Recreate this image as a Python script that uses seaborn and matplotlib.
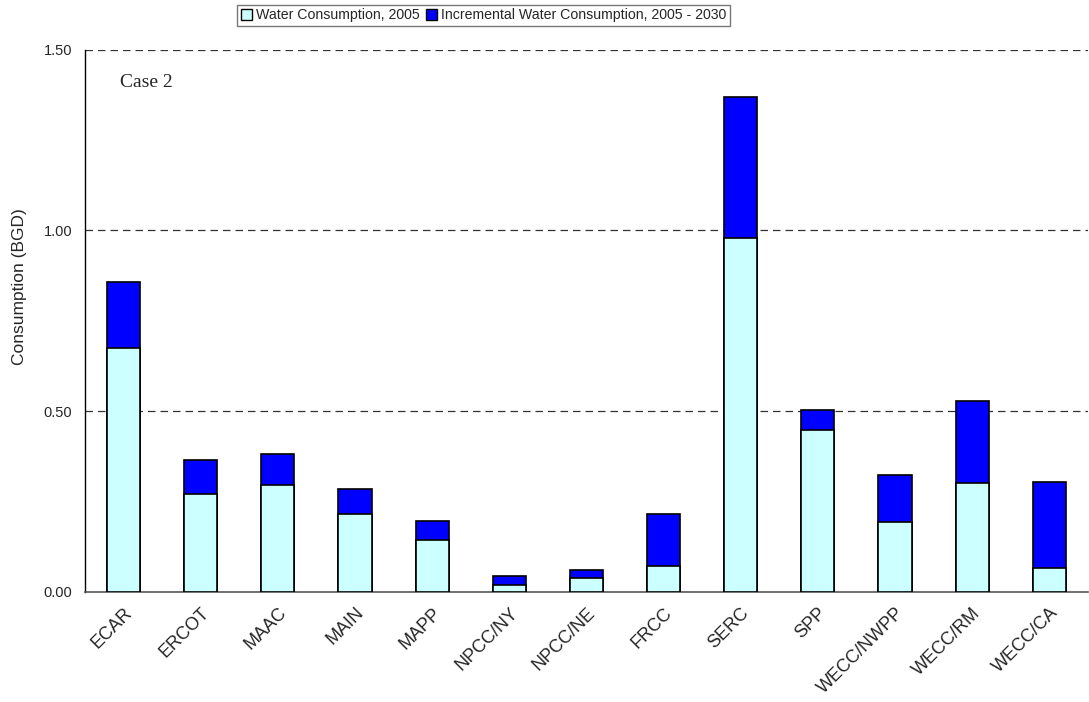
import numpy as np
import pandas as pd
import matplotlib
matplotlib.use("Agg")
import matplotlib.pyplot as plt
import matplotlib.patches as mpatches
from matplotlib.ticker import FixedLocator, FormatStrFormatter
import seaborn as sns

# -----------------------------
# Data (BGD)
# -----------------------------
regions = ["ECAR", "ERCOT", "MAAC", "MAIN", "MAPP", "NPCC/NY", "NPCC/NE",
           "FRCC", "SERC", "SPP", "WECC/NWPP", "WECC/RM", "WECC/CA"]
consumption_2005 = [0.674, 0.270, 0.295, 0.214, 0.144, 0.020, 0.039,
                    0.070, 0.980, 0.447, 0.193, 0.301, 0.067]
incremental_2005_2030 = [0.183, 0.095, 0.085, 0.071, 0.051, 0.025, 0.021,
                         0.146, 0.390, 0.055, 0.129, 0.227, 0.236]

df = pd.DataFrame({
    "region": regions,
    "base": consumption_2005,
    "incr": incremental_2005_2030,
})
df["total"] = df["base"] + df["incr"]

base_color = "#ccffff"
incr_color = "#0000ff"

sns.set_style("white")
plt.rcParams["font.family"] = ["Liberation Sans", "DejaVu Sans"]

fig = plt.figure(figsize=(10.89, 7.02), dpi=100)
ax = fig.add_axes([0.078, 0.157, 0.921, 0.772])

# stacked bars: total first, 2005 part on top of it
sns.barplot(data=df, x="region", y="total", color=incr_color, width=0.43,
            edgecolor="black", linewidth=1.2, saturation=1, ax=ax, zorder=3)
sns.barplot(data=df, x="region", y="base", color=base_color, width=0.43,
            edgecolor="black", linewidth=1.2, saturation=1, ax=ax, zorder=3)

ax.set_xlim(-0.5, len(regions) - 0.5)
ax.set_ylim(0, 1.5)
ax.yaxis.set_major_locator(FixedLocator([0, 0.5, 1.0, 1.5]))
ax.yaxis.set_major_formatter(FormatStrFormatter("%.2f"))

# gridlines (dashed) except at zero
for yv in [0.5, 1.0, 1.5]:
    ax.axhline(yv, color="#333333", linestyle=(0, (6, 4)), linewidth=0.9, zorder=1)

for s in ["top", "right"]:
    ax.spines[s].set_visible(False)
ax.spines["left"].set_color("black")
ax.spines["bottom"].set_color("#555555")
ax.spines["left"].set_linewidth(1)
ax.spines["bottom"].set_linewidth(1.2)

# category ticks sit between the bars
ax.set_xticks(np.arange(len(regions)))
ax.set_xticklabels(regions, rotation=45, ha="right", rotation_mode="anchor", fontsize=13)
ax.xaxis.set_minor_locator(FixedLocator(np.arange(len(regions) + 1) - 0.5))
ax.tick_params(axis="x", which="major", length=0, pad=9)
ax.tick_params(axis="x", which="minor", length=5, width=1, color="#555555", direction="out")
ax.tick_params(axis="y", length=10, width=1, direction="inout", color="black",
               labelsize=10.5, pad=4)

ax.set_xlabel("")
ax.set_ylabel("Consumption (BGD)", fontsize=12.5)
ax.yaxis.set_label_coords(-0.058, 0.563)

ax.text(0.035, 0.955, "Case 2", transform=ax.transAxes, fontsize=14,
        family=["Liberation Serif", "DejaVu Serif"], va="top")

# legend at the top
handles = [
    mpatches.Patch(facecolor=base_color, edgecolor="black", label="Water Consumption, 2005"),
    mpatches.Patch(facecolor=incr_color, edgecolor="black", label="Incremental Water Consumption, 2005 - 2030"),
]
fig.legend(handles=handles, loc="center", bbox_to_anchor=(0.444, 0.9785), ncol=2,
           fontsize=10.2, frameon=True, fancybox=False, edgecolor="#555555",
           handlelength=0.8, handleheight=0.8, handletextpad=0.3, columnspacing=0.4,
           borderpad=0.25, borderaxespad=0)

fig.savefig("out.png", dpi=100)
